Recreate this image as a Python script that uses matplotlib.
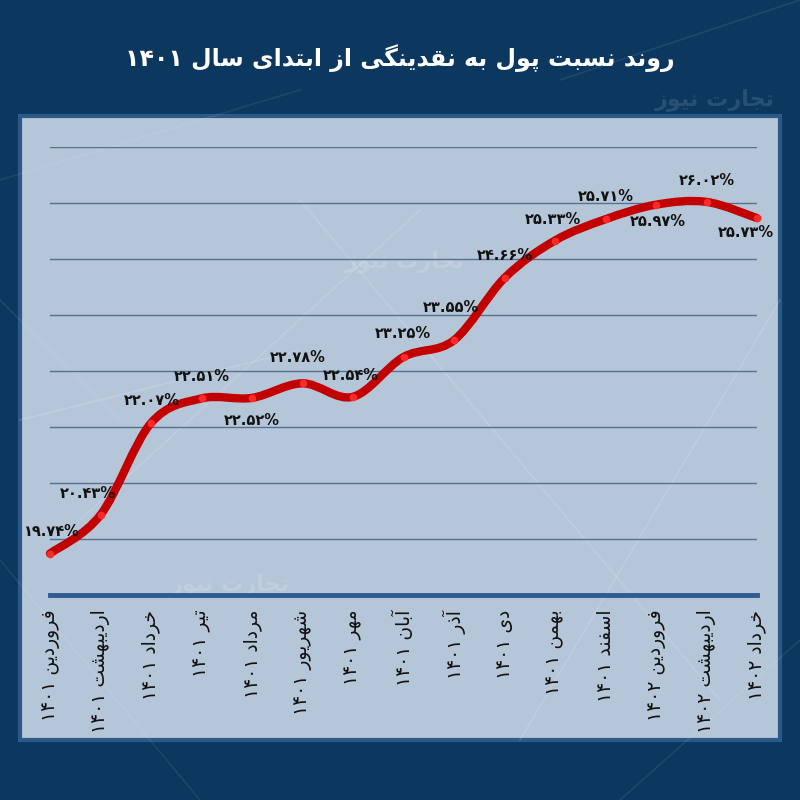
import matplotlib
matplotlib.use("Agg")
import matplotlib.pyplot as plt
from matplotlib.path import Path
from matplotlib.patches import PathPatch, Rectangle

# data
months = ["فروردین ۱۴۰۱", "اردیبهشت ۱۴۰۱", "خرداد ۱۴۰۱", "تیر ۱۴۰۱", "مرداد ۱۴۰۱",
          "شهریور ۱۴۰۱", "مهر ۱۴۰۱", "آبان ۱۴۰۱", "آذر ۱۴۰۱", "دی ۱۴۰۱",
          "بهمن ۱۴۰۱", "اسفند ۱۴۰۱", "فروردین ۱۴۰۲", "اردیبهشت ۱۴۰۲", "خرداد ۱۴۰۲"]
ratio = [19.74, 20.43, 22.07, 22.51, 22.52, 22.78, 22.54, 23.25, 23.55, 24.66,
         25.33, 25.71, 25.97, 26.02, 25.73]
title = "روند نسبت پول به نقدینگی از ابتدای سال ۱۴۰۱"

# label placement (dx, dy in pixels, y up)
label_off = [(2, 22), (-13, 21), (1, 23), (0, 22), (0, -23), (-5, 26), (-2, 21),
             (-1, 24), (-3, 33), (0, 23), (-2, 21), (0, 23), (2, -17), (0, 21),
             (-11, -14)]

# --- minimal persian shaping (matplotlib has no bidi / joining support) ---
FORMS = {  # isolated, final, initial, medial
    'ا': ('\uFE8D', '\uFE8E', None, None), 'آ': ('\uFE81', '\uFE82', None, None),
    'ب': ('\uFE8F', '\uFE90', '\uFE91', '\uFE92'), 'ت': ('\uFE95', '\uFE96', '\uFE97', '\uFE98'),
    'ج': ('\uFE9D', '\uFE9E', '\uFE9F', '\uFEA0'), 'خ': ('\uFEA5', '\uFEA6', '\uFEA7', '\uFEA8'),
    'د': ('\uFEA9', '\uFEAA', None, None), 'ذ': ('\uFEAB', '\uFEAC', None, None),
    'ر': ('\uFEAD', '\uFEAE', None, None), 'ز': ('\uFEAF', '\uFEB0', None, None),
    'س': ('\uFEB1', '\uFEB2', '\uFEB3', '\uFEB4'), 'ش': ('\uFEB5', '\uFEB6', '\uFEB7', '\uFEB8'),
    'ف': ('\uFED1', '\uFED2', '\uFED3', '\uFED4'), 'ق': ('\uFED5', '\uFED6', '\uFED7', '\uFED8'),
    'ل': ('\uFEDD', '\uFEDE', '\uFEDF', '\uFEE0'), 'م': ('\uFEE1', '\uFEE2', '\uFEE3', '\uFEE4'),
    'ن': ('\uFEE5', '\uFEE6', '\uFEE7', '\uFEE8'), 'ه': ('\uFEE9', '\uFEEA', '\uFEEB', '\uFEEC'),
    'و': ('\uFEED', '\uFEEE', None, None), 'ی': ('\uFBFC', '\uFBFD', '\uFBFE', '\uFBFF'),
    'پ': ('\uFB56', '\uFB57', '\uFB58', '\uFB59'), 'گ': ('\uFB92', '\uFB93', '\uFB94', '\uFB95'),
    'ک': ('\uFB8E', '\uFB8F', '\uFB90', '\uFB91'),
}


def shape_word(w):
    out = []
    for i, c in enumerate(w):
        if c not in FORMS:
            out.append(c)
            continue
        prev = w[i - 1] if i > 0 else None
        nxt = w[i + 1] if i < len(w) - 1 else None
        join_prev = prev in FORMS and FORMS[prev][2] is not None
        join_next = nxt in FORMS and FORMS[c][2] is not None
        f = FORMS[c]
        if join_prev and join_next:
            out.append(f[3])
        elif join_prev:
            out.append(f[1])
        elif join_next:
            out.append(f[2])
        else:
            out.append(f[0])
    return "".join(reversed(out))


def fa(s):
    words = []
    for w in s.split(" "):
        if any(c in FORMS for c in w):
            words.append(shape_word(w))
        else:
            words.append(w)
    return " ".join(reversed(words))


def fa_num(v):
    d = str.maketrans("0123456789", "۰۱۲۳۴۵۶۷۸۹")
    return f"{v:.2f}".translate(d) + "%"


plt.rcParams['font.family'] = ['DejaVu Sans']

fig = plt.figure(figsize=(8, 8), dpi=100)
fig.patch.set_facecolor("#0c3860")

# background network lines
bg = fig.add_axes([0, 0, 1, 1])
bg.set_xlim(0, 800)
bg.set_ylim(800, 0)
bg.axis("off")
for seg in [((0, 180), (300, 90)), ((0, 560), (200, 800)), ((560, 80), (800, 0)),
            ((620, 800), (800, 640)), ((0, 300), (120, 420))]:
    bg.plot([seg[0][0], seg[1][0]], [seg[0][1], seg[1][1]], color="white", alpha=0.07, lw=1.2)
bg.text(715, 100, fa("تجارت نیوز"), color="white", alpha=0.12, fontsize=16,
        fontweight="bold", ha="center", va="center")

# light panel
bg.add_patch(Rectangle((20, 116), 760, 624, facecolor="#b5c6d9", edgecolor="#2c5a88", lw=3))
for (wx, wy) in [(405, 262), (230, 585)]:
    bg.text(wx, wy, fa("تجارت نیوز"), color="white", alpha=0.15, fontsize=16,
            fontweight="bold", ha="center", va="center")
for seg in [((80, 520), (420, 210)), ((300, 200), (720, 700)), ((20, 420), (300, 350)),
            ((520, 740), (780, 300))]:
    bg.plot([seg[0][0], seg[1][0]], [seg[0][1], seg[1][1]], color="white", alpha=0.13, lw=1.2)

# title
fig.text(0.5, 1 - 58 / 800, fa(title), color="white", fontsize=17, fontweight="bold",
         ha="center", va="center")

ax = fig.add_axes([50 / 800, 1 - 595 / 800, 707 / 800, 448 / 800])
ax.patch.set_alpha(0)
x = list(range(len(ratio)))
ax.set_xlim(0, len(ratio) - 1)
ax.set_ylim(19, 27)
ax.set_yticks(range(20, 28))
ax.yaxis.grid(True, color="#56708f", lw=1)
ax.set_axisbelow(True)
ax.tick_params(axis="y", left=False, labelleft=False)
ax.tick_params(axis="x", bottom=False, pad=7)
for s in ["top", "left", "right"]:
    ax.spines[s].set_visible(False)
ax.spines["bottom"].set_color("#2f5b92")
ax.spines["bottom"].set_linewidth(3.5)
ax.set_xticks(x)
ax.set_xticklabels([fa(m) for m in months], rotation=90, fontsize=13.5,
                   color="#111111", va="top", ha="center")

# smooth curve through the points (catmull-rom -> bezier)
verts = [(x[0], ratio[0])]
codes = [Path.MOVETO]
n = len(ratio)
for i in range(n - 1):
    p0 = (x[max(i - 1, 0)], ratio[max(i - 1, 0)])
    p1 = (x[i], ratio[i])
    p2 = (x[i + 1], ratio[i + 1])
    p3 = (x[min(i + 2, n - 1)], ratio[min(i + 2, n - 1)])
    c1 = (p1[0] + (p2[0] - p0[0]) / 6, p1[1] + (p2[1] - p0[1]) / 6)
    c2 = (p2[0] - (p3[0] - p1[0]) / 6, p2[1] - (p3[1] - p1[1]) / 6)
    verts += [c1, c2, p2]
    codes += [Path.CURVE4] * 3
ax.add_patch(PathPatch(Path(verts, codes), facecolor="none", edgecolor="#c20000",
                       lw=6, capstyle="round", joinstyle="round", zorder=3, clip_on=False))
ax.scatter(x, ratio, s=30, color="#ff2a2a", zorder=4, clip_on=False, linewidths=0)

for xi, v, (dx, dy) in zip(x, ratio, label_off):
    ax.annotate(fa_num(v), (xi, v), xytext=(dx, dy), textcoords="offset pixels",
                ha="center", va="center", fontsize=10.5, fontweight="bold",
                color="#111111", zorder=5)

fig.savefig("out.png", dpi=100, facecolor=fig.get_facecolor())
